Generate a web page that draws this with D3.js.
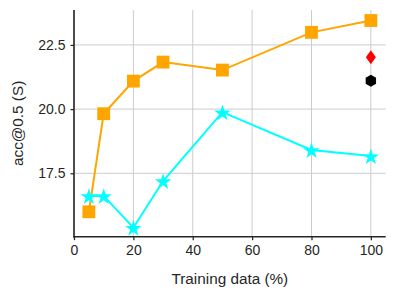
<!DOCTYPE html>
<html><head><meta charset="utf-8">
<script src="https://cdn.jsdelivr.net/npm/d3@7"></script>
<style>
body{margin:0;background:#fff;}
text{font-family:"Liberation Sans",Arial,sans-serif;fill:#262626;}
</style></head>
<body><svg id="c" width="396" height="296"></svg>
<script>
const xValues = [5, 10, 20, 30, 50, 80, 100];
const orangeValues = [16.0, 19.82, 21.09, 21.83, 21.52, 22.99, 23.45];
const cyanValues = [16.62, 16.62, 15.38, 17.2, 19.88, 18.41, 18.17];
const redPoint = [100, 22.02];
const blackPoint = [100, 21.1];
const xTicks = [0, 20, 40, 60, 80, 100];
const yTicks = [17.5, 20.0, 22.5];
const xLabel = "Training data (%)";
const yLabel = "acc@0.5 (S)";

const svg = d3.select("#c");
const L = 74, R = 385.7, T = 10, B = 236.7;
const x = d3.scaleLinear().domain([0, 105]).range([L, R]);
const y = d3.scaleLinear().domain([15.03, 23.86]).range([B, T]);

// grid
const g = svg.append("g");
g.selectAll(".gx").data(xTicks).join("line")
  .attr("x1", d => x(d)).attr("x2", d => x(d)).attr("y1", T).attr("y2", B)
  .attr("stroke", "#cccccc").attr("stroke-width", 1);
g.selectAll(".gy").data(yTicks).join("line")
  .attr("x1", L).attr("x2", R).attr("y1", d => y(d)).attr("y2", d => y(d))
  .attr("stroke", "#cccccc").attr("stroke-width", 1);

// axes
const xAxis = d3.axisBottom(x).tickValues(xTicks).tickSize(3.5).tickPadding(5).tickFormat(d3.format("d"));
const yAxis = d3.axisLeft(y).tickValues(yTicks).tickSize(3.5).tickPadding(5).tickFormat(d3.format(".1f"));
const gx = svg.append("g").attr("transform", `translate(0,${B})`).call(xAxis);
const gy = svg.append("g").attr("transform", `translate(${L},0)`).call(yAxis);
[gx, gy].forEach(a => {
  a.select(".domain").remove();
  a.selectAll(".tick line").attr("stroke", "#262626").attr("stroke-width", 1.25);
  a.selectAll(".tick text").attr("font-size", 14).attr("fill", "#262626");
});
svg.append("line").attr("x1", L).attr("x2", L).attr("y1", T).attr("y2", B + 0.8)
  .attr("stroke", "#262626").attr("stroke-width", 1.6);
svg.append("line").attr("x1", L - 0.8).attr("x2", R).attr("y1", B).attr("y2", B)
  .attr("stroke", "#262626").attr("stroke-width", 1.6);

// labels
svg.append("text").attr("x", (L + R) / 2).attr("y", 284).attr("text-anchor", "middle")
  .attr("font-size", 15.3).text(xLabel);
svg.append("text").attr("transform", `translate(22.5,${(T + B) / 2}) rotate(-90)`)
  .attr("text-anchor", "middle").attr("font-size", 15.3).text(yLabel);

const line = d3.line().x(d => x(d[0])).y(d => y(d[1]));

// orange series
const oData = xValues.map((v, i) => [v, orangeValues[i]]);
svg.append("path").datum(oData).attr("d", line).attr("fill", "none")
  .attr("stroke", "#FFA500").attr("stroke-width", 2);
svg.selectAll(".sq").data(oData).join("path")
  .attr("transform", d => `translate(${x(d[0])},${y(d[1])})`)
  .attr("d", d3.symbol(d3.symbolSquare, 165)).attr("fill", "#FFA500");

// cyan series
const cData = xValues.map((v, i) => [v, cyanValues[i]]);
svg.append("path").datum(cData).attr("d", line).attr("fill", "none")
  .attr("stroke", "#00FFFF").attr("stroke-width", 2);
svg.selectAll(".st").data(cData).join("path")
  .attr("transform", d => `translate(${x(d[0])},${y(d[1]) + 1})`)
  .attr("d", d3.symbol(d3.symbolStar, 85)).attr("fill", "#00FFFF");

// red thin diamond
svg.append("path").datum(redPoint)
  .attr("transform", d => `translate(${x(d[0])},${y(d[1])})`)
  .attr("d", "M0,-7L5,0L0,7L-5,0Z").attr("fill", "#FF0000");

// black hexagon
const hex = d3.range(6).map(i => {
  const a = Math.PI / 2 + i * Math.PI / 3;
  return [6 * Math.cos(a), -6 * Math.sin(a)];
});
svg.append("path").datum(blackPoint)
  .attr("transform", d => `translate(${x(d[0])},${y(d[1])})`)
  .attr("d", "M" + hex.map(p => p.join(",")).join("L") + "Z").attr("fill", "#000000");
</script></body></html>
